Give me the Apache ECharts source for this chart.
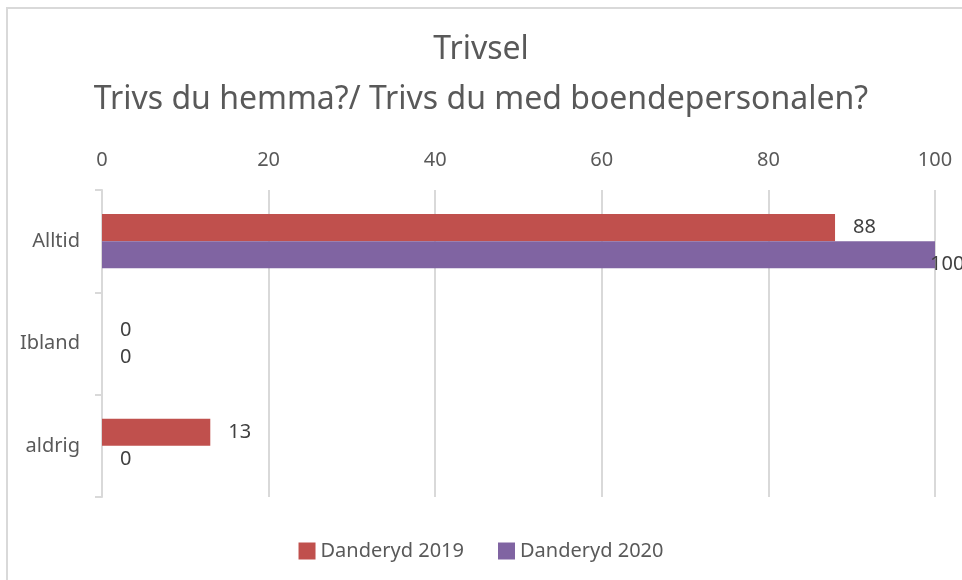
<!DOCTYPE html>
<html>
<head>
<meta charset="utf-8">
<script src="https://cdn.jsdelivr.net/npm/echarts@6/dist/echarts.min.js"></script>
<style>
  html, body { margin: 0; padding: 0; background: #fff; }
  #chart { width: 962px; height: 580px; }
</style>
</head>
<body>
<div id="chart"></div>
<script>
const categories = ['Alltid', 'Ibland', 'aldrig']
const values2019 = [88, 0, 13]
const values2020 = [100, 0, 0]
const seriesNames = ['Danderyd 2019', 'Danderyd 2020']
const titleLines = ['Trivsel', 'Trivs du hemma?/ Trivs du med boendepersonalen?']

const FONT = '"Noto Sans", "Open Sans", sans-serif'
const gridColor = '#d9d9d9'
const textColor = '#595959'
const W = 962

const chart = echarts.init(document.getElementById('chart'), null, { renderer: 'canvas' })

const barLabel = {
  show: true,
  position: 'right',
  distance: 18,
  color: '#404040',
  fontSize: 20,
  fontFamily: FONT,
}

// keep bar labels that would run off the right edge pulled back onto the bar end
const keepInside = (params) => {
  const r = params.labelRect
  if (r.x + r.width > W) {
    return { x: params.rect.x + params.rect.width - 5 }
  }
  return {}
}

chart.setOption({
  backgroundColor: '#fff',
  animation: false,
  graphic: [
    {
      type: 'rect',
      shape: { x: 7, y: 8, width: 1000, height: 600 },
      style: { fill: 'none', stroke: '#d9d9d9', lineWidth: 2 },
      silent: true,
    },
  ],
  title: {
    text: titleLines.join('\n'),
    left: 'center',
    top: 20,
    textStyle: {
      color: textColor,
      fontSize: 32,
      fontWeight: 'normal',
      fontFamily: FONT,
      lineHeight: 50,
    },
  },
  legend: {
    bottom: 14,
    left: 'center',
    itemWidth: 17,
    itemHeight: 17,
    itemGap: 34,
    icon: 'rect',
    textStyle: { color: textColor, fontSize: 20, fontFamily: FONT },
    data: seriesNames,
  },
  grid: {
    left: 102,
    right: 27,
    top: 190,
    bottom: 83,
  },
  xAxis: {
    type: 'value',
    position: 'top',
    min: 0,
    max: 100,
    interval: 20,
    axisLine: { show: false },
    axisTick: { show: false },
    splitLine: { show: true, lineStyle: { color: gridColor, width: 2 } },
    axisLabel: { color: textColor, fontSize: 20, fontFamily: FONT, margin: 20 },
  },
  yAxis: {
    type: 'category',
    inverse: true,
    data: categories,
    axisLine: { show: true, lineStyle: { color: gridColor, width: 2 } },
    axisTick: { show: true, length: 7, lineStyle: { color: gridColor, width: 2 } },
    axisLabel: { color: textColor, fontSize: 20, fontFamily: FONT, margin: 22 },
  },
  series: [
    {
      name: seriesNames[0],
      type: 'bar',
      data: values2019,
      itemStyle: { color: '#C0504D' },
      barGap: '0%',
      barCategoryGap: '47%',
      label: barLabel,
      labelLayout: keepInside,
    },
    {
      name: seriesNames[1],
      type: 'bar',
      data: values2020,
      itemStyle: { color: '#8064A2' },
      barGap: '0%',
      barCategoryGap: '47%',
      label: barLabel,
      labelLayout: keepInside,
    },
  ],
})
</script>
</body>
</html>
